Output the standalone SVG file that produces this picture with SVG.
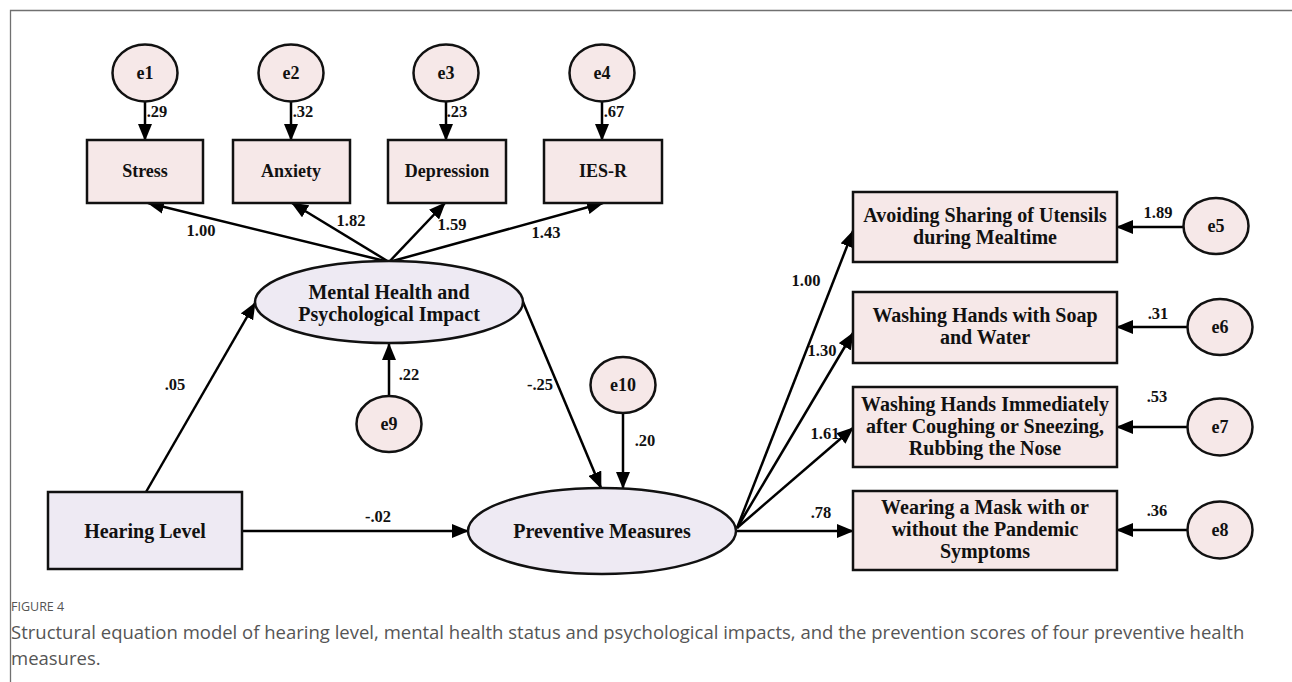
<svg xmlns="http://www.w3.org/2000/svg" width="1292" height="682" viewBox="0 0 1292 682">
<style>
.frame{fill:none;stroke:#707070;stroke-width:1.3}
.box{fill:#f6e8e8;stroke:#111;stroke-width:2.5}
.lat{fill:#eeeaf3;stroke:#111;stroke-width:2.5}
.err{fill:#f6e8e8;stroke:#111;stroke-width:2.5}
.t{font-family:"Liberation Serif",serif;font-weight:bold;font-size:18px;fill:#111;text-anchor:middle}
.b{font-size:20px}
.n{font-family:"Liberation Serif",serif;font-weight:bold;font-size:16.5px;fill:#111;text-anchor:middle}
.c{fill:none;stroke:#000;stroke-width:2.5;marker-end:url(#ah)}
.cap{font-family:"Open Sans",sans-serif;fill:#555}
</style>
<defs>
<marker id="ah" markerUnits="userSpaceOnUse" markerWidth="17" markerHeight="14" refX="16" refY="7" orient="auto">
<path d="M0,0 L17,7 L0,14 Z" fill="#000"/>
</marker>
</defs>
<rect width="1292" height="682" fill="#fff"/>
<path class="frame" d="M1292,10.5 H10.5 V682"/>

<g id="connectors">
<line class="c" x1="145" y1="102" x2="145" y2="140"/>
<line class="c" x1="291" y1="102" x2="291" y2="140"/>
<line class="c" x1="446" y1="102" x2="446" y2="140"/>
<line class="c" x1="602" y1="102" x2="602" y2="140"/>
<line class="c" x1="389" y1="262" x2="148" y2="203"/>
<line class="c" x1="389" y1="262" x2="292" y2="203"/>
<line class="c" x1="389" y1="262" x2="445" y2="203"/>
<line class="c" x1="389" y1="262" x2="603" y2="203"/>
<line class="c" x1="389" y1="396" x2="389" y2="344"/>
<line class="c" x1="146" y1="492" x2="255" y2="303"/>
<line class="c" x1="242" y1="531" x2="468" y2="531"/>
<line class="c" x1="523" y1="302" x2="601" y2="488"/>
<line class="c" x1="623" y1="413" x2="623" y2="488"/>
<line class="c" x1="737" y1="528" x2="853" y2="231"/>
<line class="c" x1="737" y1="528" x2="853" y2="333"/>
<line class="c" x1="737" y1="528" x2="853" y2="428"/>
<line class="c" x1="737" y1="531" x2="853" y2="531"/>
<line class="c" x1="1183" y1="227" x2="1117" y2="227"/>
<line class="c" x1="1188" y1="327" x2="1117" y2="327"/>
<line class="c" x1="1188" y1="427" x2="1117" y2="427"/>
<line class="c" x1="1188" y1="530" x2="1117" y2="530"/>
</g>

<g id="labels">
<text class="n" x="157" y="117">.29</text>
<text class="n" x="303" y="117">.32</text>
<text class="n" x="457" y="117">.23</text>
<text class="n" x="614" y="117">.67</text>
<text class="n" x="201" y="236">1.00</text>
<text class="n" x="351" y="226">1.82</text>
<text class="n" x="452" y="230">1.59</text>
<text class="n" x="546" y="238">1.43</text>
<text class="n" x="409" y="380">.22</text>
<text class="n" x="175" y="390">.05</text>
<text class="n" x="378" y="522">-.02</text>
<text class="n" x="540" y="390">-.25</text>
<text class="n" x="645" y="446">.20</text>
<text class="n" x="806" y="286">1.00</text>
<text class="n" x="822" y="356">1.30</text>
<text class="n" x="825" y="439">1.61</text>
<text class="n" x="821" y="518">.78</text>
<text class="n" x="1158" y="218">1.89</text>
<text class="n" x="1158" y="319">.31</text>
<text class="n" x="1157" y="402">.53</text>
<text class="n" x="1157" y="516">.36</text>
</g>

<g id="e1"><ellipse class="err" cx="145" cy="73" rx="32.5" ry="28.5"/><text class="t" x="145" y="79">e1</text></g>
<g id="e2"><ellipse class="err" cx="291" cy="73" rx="32.5" ry="28.5"/><text class="t" x="291" y="79">e2</text></g>
<g id="e3"><ellipse class="err" cx="446" cy="73" rx="32.5" ry="28.5"/><text class="t" x="446" y="79">e3</text></g>
<g id="e4"><ellipse class="err" cx="602" cy="73" rx="32.5" ry="28.5"/><text class="t" x="602" y="79">e4</text></g>

<g id="stress"><rect class="box" x="87" y="140" width="116" height="63"/><text class="t" x="145" y="177">Stress</text></g>
<g id="anxiety"><rect class="box" x="233" y="140" width="117" height="63"/><text class="t" x="291" y="177">Anxiety</text></g>
<g id="depression"><rect class="box" x="388" y="140" width="118" height="63"/><text class="t" x="447" y="177">Depression</text></g>
<g id="iesr"><rect class="box" x="544" y="140" width="118" height="63"/><text class="t" x="603" y="177">IES-R</text></g>

<g id="mental"><ellipse class="lat" cx="389" cy="302" rx="134" ry="41"/><text class="t b" x="389" y="299">Mental Health and</text><text class="t b" x="389" y="321">Psychological Impact</text></g>
<g id="e9"><ellipse class="err" cx="389" cy="424" rx="32.5" ry="28"/><text class="t" x="389" y="430">e9</text></g>
<g id="hearing"><rect class="lat" x="48" y="492" width="194" height="77"/><text class="t b" x="145" y="538">Hearing Level</text></g>
<g id="e10"><ellipse class="err" cx="623" cy="385" rx="32.5" ry="28"/><text class="t" x="623" y="391">e10</text></g>
<g id="preventive"><ellipse class="lat" cx="602" cy="531" rx="134" ry="43"/><text class="t b" x="602" y="538">Preventive Measures</text></g>

<g id="avoid"><rect class="box" x="853" y="192" width="264" height="70"/><text class="t b" x="985" y="222">Avoiding Sharing of Utensils</text><text class="t b" x="985" y="244">during Mealtime</text></g>
<g id="soap"><rect class="box" x="853" y="292" width="264" height="71"/><text class="t b" x="985" y="322">Washing Hands with Soap</text><text class="t b" x="985" y="344">and Water</text></g>
<g id="cough"><rect class="box" x="853" y="387" width="264" height="80"/><text class="t b" x="985" y="411">Washing Hands Immediately</text><text class="t b" x="985" y="433">after Coughing or Sneezing,</text><text class="t b" x="985" y="455">Rubbing the Nose</text></g>
<g id="mask"><rect class="box" x="853" y="491" width="264" height="79"/><text class="t b" x="985" y="514">Wearing a Mask with or</text><text class="t b" x="985" y="536">without the Pandemic</text><text class="t b" x="985" y="558">Symptoms</text></g>

<g id="e5"><ellipse class="err" cx="1216" cy="226" rx="32.5" ry="28"/><text class="t" x="1216" y="232">e5</text></g>
<g id="e6"><ellipse class="err" cx="1220" cy="327" rx="32.5" ry="28"/><text class="t" x="1220" y="333">e6</text></g>
<g id="e7"><ellipse class="err" cx="1220" cy="427" rx="32.5" ry="28.5"/><text class="t" x="1220" y="433">e7</text></g>
<g id="e8"><ellipse class="err" cx="1220" cy="530" rx="32.5" ry="28.5"/><text class="t" x="1220" y="536">e8</text></g>

<g id="caption">
<text class="cap" x="11" y="611" font-size="12.5">FIGURE 4</text>
<text class="cap" x="11" y="639" font-size="18.5">Structural equation model of hearing level, mental health status and psychological impacts, and the prevention scores of four preventive health</text>
<text class="cap" x="11" y="665" font-size="18.5">measures.</text>
</g>
</svg>
